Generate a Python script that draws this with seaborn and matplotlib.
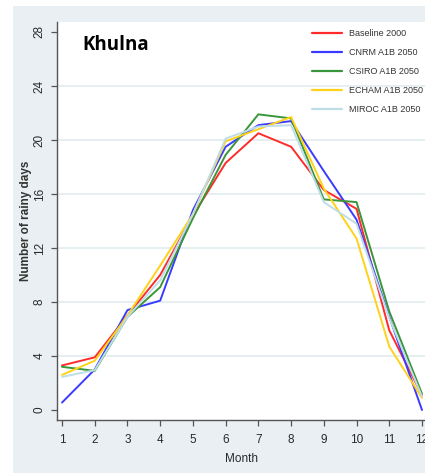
import numpy as np
import pandas as pd
import matplotlib
matplotlib.use("Agg")
import matplotlib.pyplot as plt
import seaborn as sns
from matplotlib.patches import Rectangle
from matplotlib.lines import Line2D

months = list(range(1, 13))
baseline_2000 = [3.3, 3.9, 7.0, 10.0, 14.4, 18.3, 20.5, 19.5, 16.3, 14.9, 5.9, 1.1]
cnrm_a1b_2050 = [0.55, 3.0, 7.4, 8.1, 14.8, 19.5, 21.1, 21.4, 17.7, 14.1, 6.9, 0.0]
csiro_a1b_2050 = [3.2, 2.9, 6.9, 9.1, 14.2, 18.9, 21.9, 21.6, 15.6, 15.4, 7.3, 1.2]
echam_a1b_2050 = [2.6, 3.65, 7.0, 10.7, 14.5, 19.9, 20.8, 21.7, 16.4, 12.7, 4.7, 0.9]
miroc_a1b_2050 = [2.45, 2.95, 6.9, 9.6, 14.5, 20.1, 21.0, 21.1, 15.4, 13.8, 6.8, 1.0]

series_names = ["Baseline 2000", "CNRM A1B 2050", "CSIRO A1B 2050",
                "ECHAM A1B 2050", "MIROC A1B 2050"]
series_values = [baseline_2000, cnrm_a1b_2050, csiro_a1b_2050,
                 echam_a1b_2050, miroc_a1b_2050]
colors = ["#ff2b2b", "#3b3bff", "#3a963a", "#ffd21a", "#bfdde6"]

y_ticks = [0, 4, 8, 12, 16, 20, 24, 28]
title_text = "Khulna"

df = pd.DataFrame({
    "Month": np.tile(months, len(series_names)),
    "Days": np.concatenate([np.array(v, dtype=float) for v in series_values]),
    "Series": np.repeat(series_names, len(months)),
})

sns.set_theme(style="white")
plt.rcParams["font.family"] = ["Liberation Sans", "DejaVu Sans"]

W, H = 425, 473
fig = plt.figure(figsize=(W / 100, H / 100), dpi=100)
fig.patch.set_facecolor("white")

# outer light panel
fig.patches.append(Rectangle((13 / W, 0), 1 - 13 / W, 1 - 6 / H,
                             transform=fig.transFigure, facecolor="#e9eff2",
                             edgecolor="none", zorder=-10))

ax = fig.add_axes([57 / W, (H - 420) / H, (W - 57) / W, (420 - 22) / H])
ax.set_zorder(1)
ax.set_facecolor("white")

for yv in y_ticks[1:-1]:
    ax.axhline(yv, color="#e3edf0", lw=1.3, zorder=0)

sns.lineplot(data=df, x="Month", y="Days", hue="Series",
             palette=dict(zip(series_names, colors)), linewidth=1.4,
             ax=ax, legend=False, zorder=3)

ax.set_xlim(1 - 5 / 32.73, 12 + 3 / 32.73)
ax.set_ylim(-10 / 13.5, 388 / 13.5)
ax.set_xticks(months)
ax.set_xticklabels([str(m) for m in months], fontsize=8.5, color="#2a2a2a")
ax.set_yticks(y_ticks)
ax.set_yticklabels([str(v) for v in y_ticks], fontsize=8.5, color="#2a2a2a",
                   rotation=90, va="center")
ax.tick_params(axis="both", which="major", direction="out", length=4,
               width=0.9, color="#555555", bottom=True, left=True, pad=4)
ax.tick_params(axis="x", pad=6)

for side in ["top", "right"]:
    ax.spines[side].set_visible(False)
for side in ["left", "bottom"]:
    ax.spines[side].set_color("#555555")
    ax.spines[side].set_linewidth(1.0)

ax.set_xlabel("Month", fontsize=8.5, color="#2a2a2a", labelpad=5)
ax.set_ylabel("Number of rainy days", fontsize=8.5, fontweight="bold",
              color="#333333", labelpad=1)

fig.text(82 / W, 1 - 45 / H, title_text,
         fontsize=13.5, fontweight="bold", family=["Open Sans", "DejaVu Sans"],
         color="black", va="center", ha="left", zorder=5)

handles = [Line2D([0], [0], color=c, lw=1.6) for c in colors]
leg = ax.legend(handles, series_names, loc="upper left",
                bbox_to_anchor=(309 / W, 1 - 26 / H), bbox_transform=fig.transFigure,
                frameon=False, fontsize=6.5, handlelength=3.4, handletextpad=0.7,
                labelspacing=1.12, borderaxespad=0, borderpad=0.3)
for t in leg.get_texts():
    t.set_color("#333333")

fig.savefig("out.png", dpi=100)
